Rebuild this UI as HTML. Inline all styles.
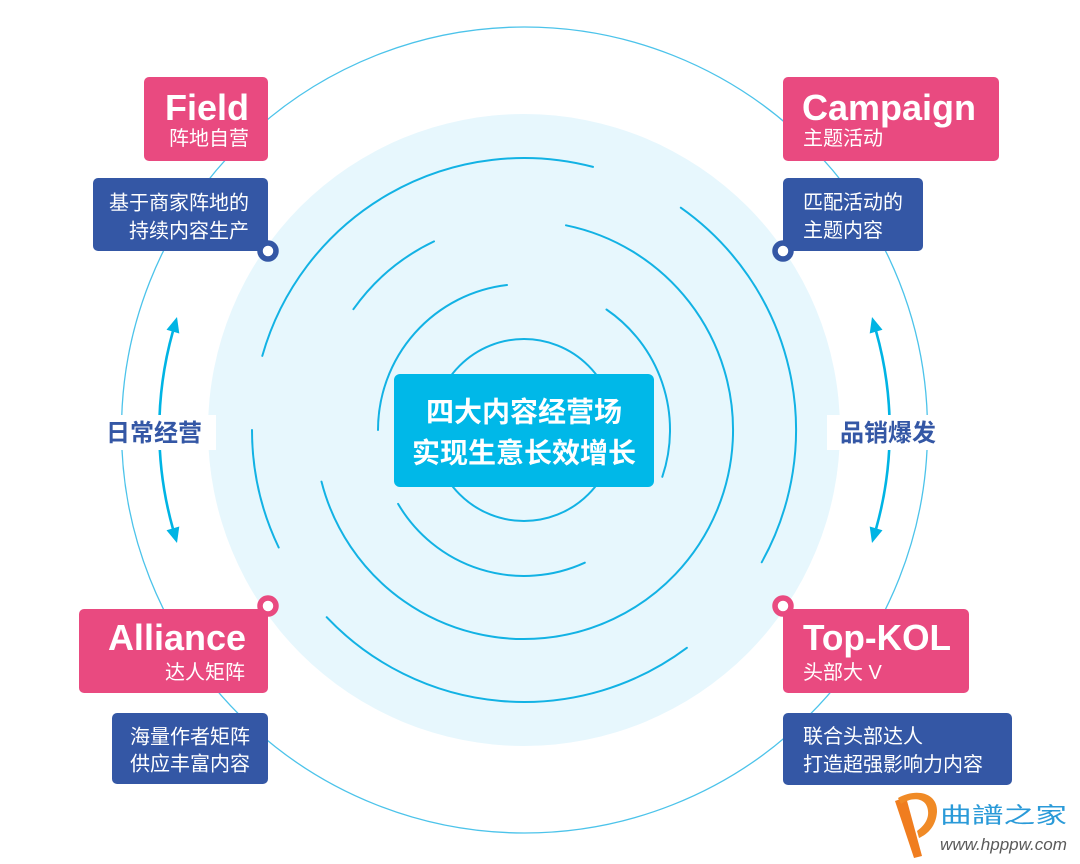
<!DOCTYPE html>
<html>
<head>
<meta charset="utf-8">
<style>
  html,body{margin:0;padding:0;background:#fff;}
  svg{display:block;}
  .cjk{font-family:"Liberation Sans","Noto Sans CJK SC",sans-serif;}
</style>
</head>
<body>
<svg width="1080" height="864" viewBox="0 0 1080 864" xmlns="http://www.w3.org/2000/svg">
  <rect width="1080" height="864" fill="#ffffff"/>
  <!-- light disc -->
  <circle cx="524" cy="430" r="316" fill="#e7f7fd"/>
  <!-- outer thin circle -->
  <circle cx="524.5" cy="430" r="403" fill="none" stroke="#4cc3ea" stroke-width="1.3"/>

  <!-- rings -->
  <g fill="none" stroke="#12b2e4" stroke-width="2" stroke-linecap="round">
    <circle cx="524" cy="430" r="91"/>
    <!-- ring 2 r=146 -->
    <path d="M507,285 A146,146 0 0 0 378,430"/>
    <path d="M606.5,309.5 A146,146 0 0 1 662.3,476.8"/>
    <path d="M398.1,503.9 A146,146 0 0 0 584.8,562.7"/>
    <!-- ring 3 r=209 -->
    <path d="M434,241.4 A209,209 0 0 0 353.4,309.2"/>
    <path d="M566,225.3 A209,209 0 1 1 321.5,481.6"/>
    <!-- ring 4 r=272 -->
    <path d="M593,166.9 A272,272 0 0 0 262.3,355.9"/>
    <path d="M680.8,207.7 A272,272 0 0 1 761.7,562.3"/>
    <path d="M252,430 A272,272 0 0 0 278.7,547.5"/>
    <path d="M326.7,617.2 A272,272 0 0 0 686.9,647.8"/>
  </g>

  <!-- central box -->
  <rect x="394" y="374" width="260" height="113" rx="6" fill="#00b8e8"/>
  <text class="cjk" x="524" y="421.5" text-anchor="middle" font-size="28" font-weight="bold" fill="#ffffff" font-family="Liberation Sans, Noto Sans CJK SC, sans-serif">四大内容经营场</text>
  <text class="cjk" x="524" y="462.5" text-anchor="middle" font-size="28" font-weight="bold" fill="#ffffff" font-family="Liberation Sans, Noto Sans CJK SC, sans-serif">实现生意长效增长</text>

  <!-- left arrow -->
  <g fill="#00b4e4" stroke="none">
    <path d="M172.9,331.4 A364,364 0 0 0 172.9,528.6" fill="none" stroke="#00b4e4" stroke-width="2.6"/>
    <polygon points="177,317 179.3,333.5 166.5,329.8"/>
    <polygon points="177,543 179.3,526.5 166.5,530.2"/>
    <!-- right arrow -->
    <path d="M876.1,331.4 A364,364 0 0 1 876.1,528.6" fill="none" stroke="#00b4e4" stroke-width="2.6"/>
    <polygon points="872,317 869.7,333.5 882.5,329.8"/>
    <polygon points="872,543 869.7,526.5 882.5,530.2"/>
  </g>

  <!-- side labels -->
  <rect x="105" y="415" width="111" height="35" fill="#ffffff"/>
  <text x="106" y="441" font-size="24" font-weight="bold" fill="#3457a5" font-family="Liberation Sans, Noto Sans CJK SC, sans-serif">日常经营</text>
  <rect x="827" y="415" width="125" height="35" fill="#ffffff"/>
  <text x="840" y="441" font-size="24" font-weight="bold" fill="#3457a5" font-family="Liberation Sans, Noto Sans CJK SC, sans-serif">品销爆发</text>

  <!-- Field -->
  <rect x="144" y="77" width="124" height="84" rx="5" fill="#e94a80"/>
  <text x="249" y="120" text-anchor="end" font-size="36" font-weight="bold" fill="#ffffff" font-family="Liberation Sans, sans-serif">Field</text>
  <text x="249" y="145" text-anchor="end" font-size="20" fill="#ffffff" font-family="Liberation Sans, Noto Sans CJK SC, sans-serif">阵地自营</text>
  <rect x="93" y="178" width="175" height="73" rx="5" fill="#3457a5"/>
  <text x="249" y="209.5" text-anchor="end" font-size="20" fill="#ffffff" font-family="Liberation Sans, Noto Sans CJK SC, sans-serif">基于商家阵地的</text>
  <text x="249" y="237.5" text-anchor="end" font-size="20" fill="#ffffff" font-family="Liberation Sans, Noto Sans CJK SC, sans-serif">持续内容生产</text>
  <circle cx="268" cy="251" r="8" fill="#ffffff" stroke="#3457a5" stroke-width="5.5"/>

  <!-- Campaign -->
  <rect x="783" y="77" width="216" height="84" rx="5" fill="#e94a80"/>
  <text x="802" y="120" font-size="36" font-weight="bold" fill="#ffffff" font-family="Liberation Sans, sans-serif">Campaign</text>
  <text x="803" y="145" font-size="20" fill="#ffffff" font-family="Liberation Sans, Noto Sans CJK SC, sans-serif">主题活动</text>
  <rect x="783" y="178" width="140" height="73" rx="5" fill="#3457a5"/>
  <text x="803" y="209" font-size="20" fill="#ffffff" font-family="Liberation Sans, Noto Sans CJK SC, sans-serif">匹配活动的</text>
  <text x="803" y="237" font-size="20" fill="#ffffff" font-family="Liberation Sans, Noto Sans CJK SC, sans-serif">主题内容</text>
  <circle cx="783" cy="251" r="8" fill="#ffffff" stroke="#3457a5" stroke-width="5.5"/>

  <!-- Alliance -->
  <rect x="79" y="609" width="189" height="84" rx="5" fill="#e94a80"/>
  <text x="246" y="650" text-anchor="end" font-size="36" font-weight="bold" fill="#ffffff" font-family="Liberation Sans, sans-serif">Alliance</text>
  <text x="245" y="679" text-anchor="end" font-size="20" fill="#ffffff" font-family="Liberation Sans, Noto Sans CJK SC, sans-serif">达人矩阵</text>
  <rect x="112" y="713" width="156" height="71" rx="5" fill="#3457a5"/>
  <text x="250" y="743.5" text-anchor="end" font-size="20" fill="#ffffff" font-family="Liberation Sans, Noto Sans CJK SC, sans-serif">海量作者矩阵</text>
  <text x="250" y="770.5" text-anchor="end" font-size="20" fill="#ffffff" font-family="Liberation Sans, Noto Sans CJK SC, sans-serif">供应丰富内容</text>
  <circle cx="268" cy="606" r="8" fill="#ffffff" stroke="#e94a80" stroke-width="5.5"/>

  <!-- Top-KOL -->
  <rect x="783" y="609" width="186" height="84" rx="5" fill="#e94a80"/>
  <text x="803" y="650" font-size="36" font-weight="bold" fill="#ffffff" font-family="Liberation Sans, sans-serif" textLength="148" lengthAdjust="spacingAndGlyphs">Top-KOL</text>
  <text x="803" y="679" font-size="20" fill="#ffffff" font-family="Liberation Sans, Noto Sans CJK SC, sans-serif">头部大 V</text>
  <rect x="783" y="713" width="229" height="72" rx="5" fill="#3457a5"/>
  <text x="803" y="743" font-size="20" fill="#ffffff" font-family="Liberation Sans, Noto Sans CJK SC, sans-serif">联合头部达人</text>
  <text x="803" y="771" font-size="20" fill="#ffffff" font-family="Liberation Sans, Noto Sans CJK SC, sans-serif">打造超强影响力内容</text>
  <circle cx="783" cy="606" r="8" fill="#ffffff" stroke="#e94a80" stroke-width="5.5"/>

  <!-- watermark -->
  <g>
    <path d="M895,801 L906,797 L922,856 L914,858 Z" fill="#f07d1f"/>
    <path d="M898,798 C915,788 938,792 937,812 C936,826 928,834 919,838 L917,831 C924,826 929,819 928,811 C927,798 913,796 901,804 Z" fill="#f08a26"/>
    <text x="940" y="823" font-size="22" fill="#2a9ad8" textLength="127" lengthAdjust="spacingAndGlyphs" font-family="Liberation Sans, Noto Sans CJK SC, sans-serif">曲譜之家</text>
    <text x="940" y="850" font-size="17" font-style="italic" fill="#5a5a5a" textLength="127" lengthAdjust="spacingAndGlyphs" font-family="Liberation Sans, sans-serif">www.hpppw.com</text>
  </g>
</svg>
</body>
</html>
